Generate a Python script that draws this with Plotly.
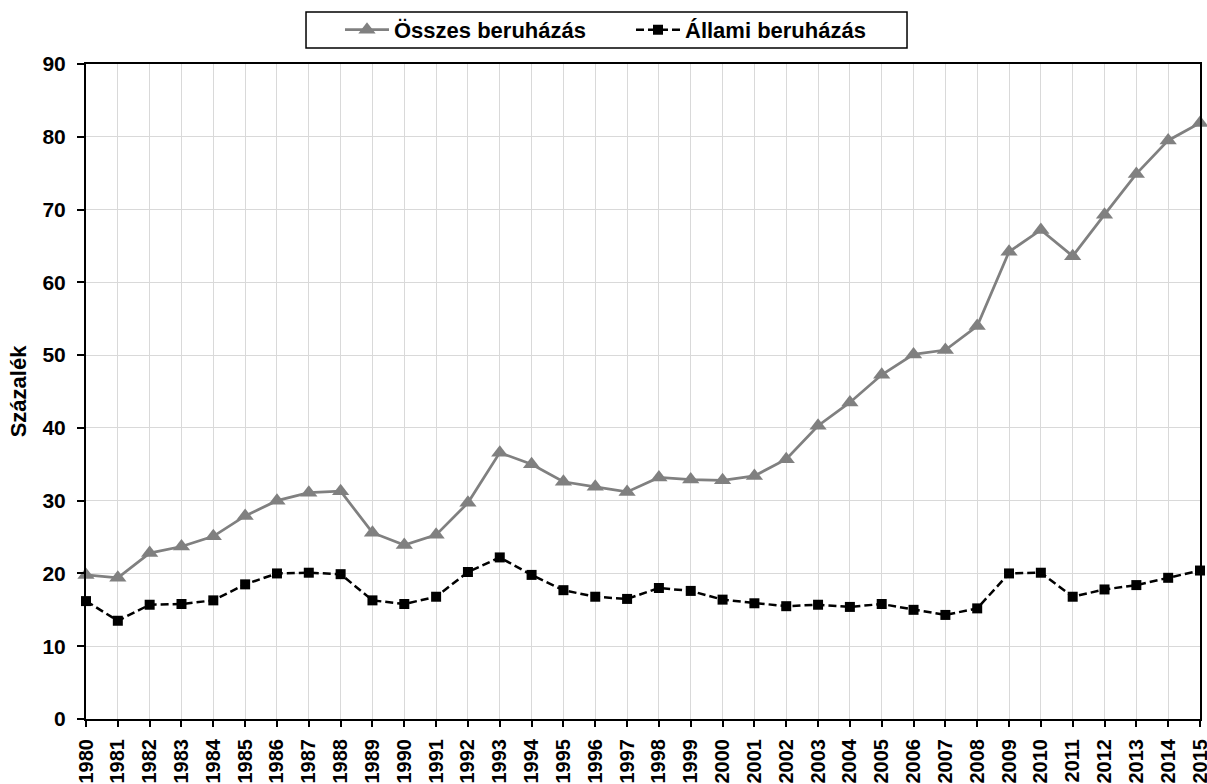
import plotly.graph_objects as go

years = list(range(1980, 2016))
osszes = [19.8, 19.4, 22.8, 23.7, 25.1, 27.9, 30.0, 31.1, 31.3, 25.6,
          23.9, 25.3, 29.7, 36.6, 35.0, 32.6, 31.9, 31.2, 33.2, 32.9,
          32.8, 33.4, 35.7, 40.3, 43.5, 47.3, 50.1, 50.7, 54.0, 64.2,
          67.2, 63.6, 69.3, 74.9, 79.5, 81.9]
allami = [16.2, 13.5, 15.7, 15.8, 16.3, 18.5, 20.0, 20.1, 19.9, 16.3,
          15.8, 16.8, 20.2, 22.2, 19.8, 17.7, 16.8, 16.5, 18.0, 17.6,
          16.4, 15.9, 15.5, 15.7, 15.4, 15.8, 15.0, 14.3, 15.2, 20.0,
          20.1, 16.8, 17.8, 18.4, 19.4, 20.4]
y_ticks = [0, 10, 20, 30, 40, 50, 60, 70, 80, 90]

FONT = "Liberation Sans, Arial, sans-serif"

fig = go.Figure()
fig.add_trace(go.Scatter(
    x=years, y=osszes, name="Összes beruházás", mode="lines+markers",
    line=dict(color="#808080", width=2.75),
    marker=dict(symbol="triangle-up", size=15, color="#808080"),
    cliponaxis=False))
fig.add_trace(go.Scatter(
    x=years, y=allami, name="Állami beruházás", mode="lines+markers",
    line=dict(color="#000000", width=2.5, dash="8px,4px"),
    marker=dict(symbol="square", size=10, color="#000000"),
    cliponaxis=False))

# legend frame
fig.add_shape(type="rect", xref="paper", yref="paper",
              x0=0.1975, x1=0.737, y0=1.0244, y1=1.0794,
              line=dict(color="black", width=1.5), fillcolor="rgba(0,0,0,0)", layer="above")

fig.update_layout(
    width=1207, height=784,
    margin=dict(l=86, r=7, t=64, b=65, autoexpand=False),
    paper_bgcolor="white", plot_bgcolor="white",
    font=dict(family=FONT, size=21, color="black"),
    showlegend=True,
    legend=dict(orientation="h", x=0.228, xanchor="left", y=1.052, yanchor="middle",
                borderwidth=0, bgcolor="rgba(0,0,0,0)",
                font=dict(size=22, family=FONT, color="black", weight="bold"),
                itemwidth=44, entrywidth=232),
)
fig.update_xaxes(
    range=[1980, 2015], tickmode="array", tickvals=years, ticktext=[str(y) for y in years],
    tickangle=-90, tickfont=dict(size=20, weight="bold"), ticklabeloverflow="allow",
    ticklabelstandoff=4,
    showgrid=True, gridcolor="#d9d9d9", gridwidth=1.2,
    showline=True, linecolor="black", linewidth=2, mirror=True,
    ticks="outside", ticklen=6, tickcolor="black", tickwidth=2, zeroline=False, automargin=False)
fig.update_yaxes(
    range=[0, 90], tickmode="array", tickvals=y_ticks,
    tickfont=dict(size=21, weight="bold"), ticklabelstandoff=7,
    title=dict(text="Százalék", font=dict(size=22, weight="bold"), standoff=10),
    showgrid=True, gridcolor="#d9d9d9", gridwidth=1.2,
    showline=True, linecolor="black", linewidth=2, mirror=True,
    ticks="outside", ticklen=7, tickcolor="black", tickwidth=2, zeroline=False, automargin=False)

fig.write_html("out.html", config={"displayModeBar": False},
               post_script="document.body.style.margin='0';document.body.style.overflow='hidden';")
